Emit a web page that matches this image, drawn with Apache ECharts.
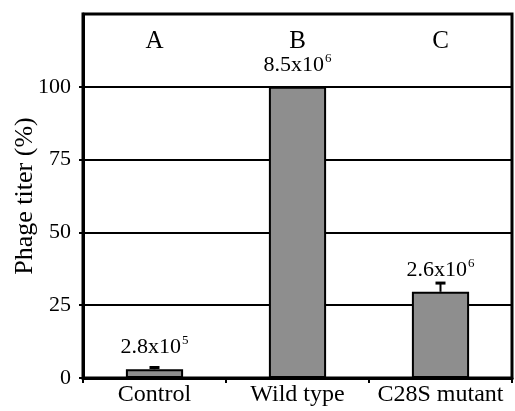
<!DOCTYPE html>
<html><head><meta charset="utf-8">
<script src="https://cdn.jsdelivr.net/npm/echarts@6/dist/echarts.min.js"></script>
<style>html,body{margin:0;padding:0;background:#fff}#c{width:515px;height:411px}</style>
</head><body><div id="c"></div>
<script>
const categories = ["Control", "Wild type", "C28S mutant"];
const panelLetters = ["A", "B", "C"];
const titerPct = [3.0, 100, 29.6];
const errorTop = [3.6, null, 32.6];
const titerMantissa = ["2.8", "8.5", "2.6"];
const titerExponent = ["5", "6", "6"];
const yTicks = { min: 0, max: 125, interval: 25 };

const FONT = "Liberation Serif";
const chart = echarts.init(document.getElementById('c'), null, { renderer: 'canvas' });

chart.setOption({
  animation: false,
  backgroundColor: '#fff',
  grid: { left: 83, right: 3, top: 14, bottom: 33, show: true, borderColor: '#000', borderWidth: 3,
          containLabel: false, outerBoundsMode: 'none' },
  xAxis: [{
    type: 'category', data: categories, position: 'bottom',
    axisLine: { lineStyle: { color: '#000', width: 3 } },
    axisTick: { show: true, inside: false, length: 5, lineStyle: { color: '#000', width: 2 } },
    axisLabel: { color: '#000', fontFamily: FONT, fontSize: 24, margin: 5, interval: 0, hideOverlap: false }
  }, {
    type: 'category', data: panelLetters, position: 'top',
    axisLine: { show: false }, axisTick: { show: false },
    axisLabel: { inside: true, color: '#000', fontFamily: FONT, fontSize: 25, margin: 15, interval: 0 }
  }],
  yAxis: {
    type: 'value', min: yTicks.min, max: yTicks.max, interval: yTicks.interval,
    name: 'Phage titer (%)', nameLocation: 'middle', nameGap: 45, nameMoveOverlap: false,
    nameTextStyle: { color: '#000', fontFamily: FONT, fontSize: 26 },
    axisLine: { show: true, lineStyle: { color: '#000', width: 3 } },
    axisTick: { show: true, length: 4, lineStyle: { color: '#000', width: 2 } },
    axisLabel: { color: '#000', fontFamily: FONT, fontSize: 22, margin: 12, showMaxLabel: false },
    splitLine: { show: true, lineStyle: { color: '#000', width: 2 } }
  },
  series: [{
    type: 'bar', data: titerPct, barWidth: '40%',
    itemStyle: { color: '#8e8e8e', borderColor: '#000', borderWidth: 2 },
    label: {
      show: true, position: 'top', distance: 9,
      formatter: p => '{b|' + titerMantissa[p.dataIndex] + 'x10}{s|' + titerExponent[p.dataIndex] + '}',
      rich: {
        b: { fontFamily: FONT, fontSize: 22, color: '#000' },
        s: { fontFamily: FONT, fontSize: 13, color: '#000', padding: [0, 0, 13, 1] }
      }
    },
    z: 3
  }, {
    type: 'custom',
    data: errorTop.map((v, i) => [i, titerPct[i], v]),
    renderItem: (params, api) => {
      const hi = api.value(2);
      if (hi === null || hi === undefined || isNaN(hi)) return null;
      const p0 = api.coord([api.value(0), api.value(1)]);
      const p1 = api.coord([api.value(0), hi]);
      const half = 5;
      return { type: 'group', children: [
        { type: 'line', shape: { x1: p0[0], y1: p0[1], x2: p1[0], y2: p1[1] }, style: { stroke: '#000', lineWidth: 2 } },
        { type: 'line', shape: { x1: p1[0] - half, y1: p1[1], x2: p1[0] + half, y2: p1[1] }, style: { stroke: '#000', lineWidth: 3 } }
      ]};
    },
    z: 2
  }]
});
</script></body></html>
